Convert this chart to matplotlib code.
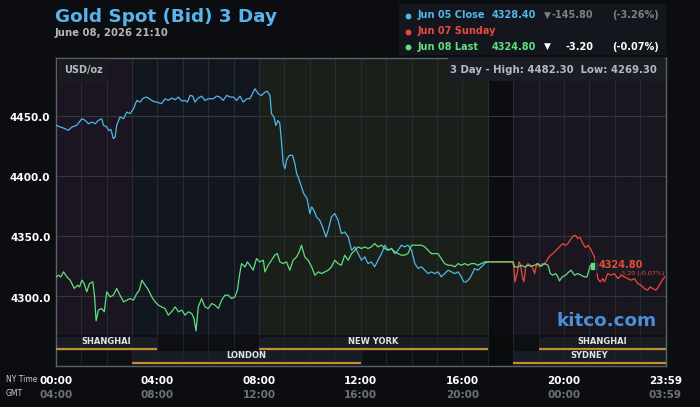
import matplotlib
matplotlib.use("Agg")
import matplotlib.pyplot as plt
from matplotlib.patches import Rectangle
from matplotlib.lines import Line2D

# ---------------- data ----------------
blue_hours = [0.02,0.18,0.31,0.50,0.64,0.83,1.03,1.16,1.29,1.42,1.55,1.68,1.81,1.88,2.01,2.08,2.17,2.27,2.34,2.40,
              2.53,2.67,2.80,2.93,3.06,3.19,3.32,3.45,3.58,3.71,3.84,3.98,4.17,4.30,4.43,4.56,4.70,4.83,4.96,5.09,
              5.18,5.29,5.39,5.48,5.61,5.74,5.87,6.00,6.20,6.33,6.46,6.59,6.73,6.86,6.99,7.12,7.25,7.38,7.51,
              7.64,7.84,7.97,8.10,8.23,8.32,8.43,8.49,8.59,8.66,8.75,8.82,8.89,8.95,9.02,9.08,9.19,9.32,9.41,9.48,
              9.54,9.67,9.76,9.89,10.00,10.07,10.16,10.26,10.39,10.50,10.63,10.72,10.85,10.98,11.11,11.24,11.37,11.51,11.64,11.77,
              11.90,12.03,12.16,12.29,12.42,12.55,12.68,12.82,12.95,13.08,13.21,13.34,13.47,13.60,13.73,13.86,14.00,14.13,14.26,14.39,
              14.52,14.65,14.78,14.91,15.04,15.17,15.30,15.44,15.57,15.70,15.83,15.96,16.05,16.15,16.29,16.39,16.48,16.61,16.75,16.88,
              16.97]
blue_prices = [4442.0,4440.6,4439.7,4437.8,4440.6,4442.0,4447.5,4446.1,4443.3,4444.7,4443.3,4446.1,4447.5,4442.0,4440.6,4437.8,4438.6,4430.9,4432.3,4442.0,
               4448.9,4447.5,4453.0,4451.7,4455.8,4462.7,4461.3,4464.7,4465.5,4463.6,4461.9,4461.3,4460.0,4464.1,4462.7,4464.7,4463.3,4465.5,4462.2,4462.7,
               4461.3,4466.9,4466.3,4461.3,4464.7,4466.3,4462.7,4464.1,4464.1,4466.3,4465.5,4462.7,4466.9,4465.5,4465.5,4462.7,4466.3,4461.3,4464.1,
               4464.1,4472.4,4468.2,4466.8,4469.6,4470.4,4466.8,4451.6,4448.8,4441.9,4446.1,4443.3,4426.7,4410.1,4405.9,4412.9,4417.0,4417.0,4410.1,4401.8,
               4399.0,4390.7,4385.2,4381.0,4368.6,4374.1,4371.3,4365.8,4363.0,4357.5,4349.2,4354.7,4365.8,4368.6,4363.0,4351.9,4353.3,4349.2,4338.1,4340.9,
               4335.3,4329.8,4332.6,4327.0,4328.4,4324.3,4329.8,4335.3,4342.3,4338.1,4339.5,4335.3,4338.1,4342.3,4340.9,4342.3,4338.1,4327.0,4322.9,4324.3,
               4321.5,4318.7,4320.1,4318.7,4320.1,4316.0,4318.7,4321.5,4320.1,4318.7,4320.1,4316.0,4311.8,4311.8,4314.6,4318.7,4322.9,4321.5,4324.3,4327.0,
               4328.4]

green_hours = [0.02,0.11,0.20,0.31,0.44,0.57,0.73,0.86,0.94,1.03,1.12,1.22,1.33,1.46,1.53,1.59,1.68,1.81,1.91,2.01,
               2.14,2.27,2.40,2.53,2.67,2.80,2.93,3.06,3.19,3.29,3.39,3.52,3.65,3.78,3.91,4.04,4.17,4.30,4.43,4.56,
               4.70,4.83,4.96,5.09,5.22,5.35,5.44,5.52,5.61,5.74,5.87,6.00,6.14,6.27,6.40,6.53,6.66,6.79,6.92,7.05,
               7.15,7.22,7.31,7.45,7.54,
               7.64,7.77,7.90,8.03,8.17,8.23,8.36,8.49,8.62,8.72,8.82,8.95,9.08,9.21,9.34,9.48,9.58,9.67,9.80,9.93,
               10.07,10.20,10.33,10.46,10.59,10.72,10.85,10.98,11.11,11.24,11.37,11.51,11.64,11.77,11.90,12.03,12.16,12.29,12.42,12.55,
               12.68,12.82,12.95,13.08,13.21,13.34,13.47,13.60,13.73,13.86,14.00,14.13,14.26,14.39,14.52,14.65,14.78,14.91,15.04,15.17,
               15.30,15.44,15.57,15.70,15.83,15.96,16.09,16.22,16.35,16.48,16.61,16.75,16.88,16.97,
               17.99,18.06,18.19,18.32,18.45,18.58,18.71,18.84,18.97,19.10,19.23,19.37,19.46,19.56,19.67,19.76,19.82,19.93,
               20.06,20.19,20.28,20.41,20.54,20.68,20.81,20.90,20.98,21.04,21.17]
green_prices = [4315.9,4317.3,4315.9,4320.1,4315.9,4313.2,4306.3,4309.0,4307.6,4313.2,4310.4,4303.5,4310.4,4311.8,4299.3,4279.4,4288.3,4289.6,4286.9,4303.5,
                4299.3,4300.7,4306.3,4300.7,4295.2,4296.6,4297.9,4296.6,4302.1,4304.9,4313.2,4309.0,4304.9,4299.3,4295.2,4292.4,4291.0,4289.6,4284.1,4286.9,
                4291.0,4286.9,4288.3,4284.1,4286.9,4285.5,4281.3,4271.0,4291.0,4297.9,4291.0,4289.6,4293.8,4292.4,4289.6,4296.6,4300.7,4300.7,4297.9,4299.3,
                4304.9,4315.9,4327.0,4324.2,4328.4,
                4325.6,4321.5,4331.2,4328.4,4329.8,4320.1,4325.6,4329.8,4334.0,4335.3,4328.4,4327.0,4328.4,4321.5,4329.8,4332.6,4336.7,4342.3,4332.6,4329.8,
                4324.3,4317.3,4320.1,4318.7,4320.1,4321.5,4324.3,4329.8,4327.0,4325.6,4334.0,4329.8,4335.3,4338.1,4340.9,4339.5,4340.9,4339.5,4340.9,4343.7,
                4340.9,4342.3,4339.5,4338.1,4339.5,4336.7,4335.3,4334.0,4334.0,4335.3,4342.3,4342.3,4342.3,4342.3,4340.9,4338.1,4335.3,4335.3,4335.3,4331.2,
                4327.0,4325.6,4325.6,4324.3,4327.0,4325.6,4327.0,4325.6,4327.0,4327.0,4325.6,4327.0,4328.4,4328.4,
                4328.4,4324.2,4324.2,4325.6,4324.2,4325.6,4324.8,4325.6,4327.0,4324.8,4327.0,4325.6,4318.7,4317.3,4318.7,4315.9,4312.6,4315.9,
                4317.3,4320.1,4321.5,4317.3,4318.7,4317.3,4315.9,4315.9,4321.5,4325.6,4324.8]

red_hours = [16.97,17.99,18.03,18.07,18.15,18.23,18.29,18.36,18.42,18.49,18.58,18.67,18.75,18.84,18.93,19.04,19.14,19.23,19.37,19.46,
             19.56,19.69,19.82,19.95,20.06,20.15,20.24,20.35,20.45,20.54,20.64,20.74,20.85,20.94,21.04,21.13,21.20,21.26,21.33,21.42,
             21.53,21.59,21.72,21.85,21.98,22.12,22.25,22.38,22.51,22.64,22.77,22.90,23.03,23.16,23.29,23.39,23.49,23.62,23.75,23.86,
             23.91,23.96]
red_prices = [4328.4,4328.4,4321.5,4311.8,4318.7,4328.4,4325.6,4315.9,4311.8,4324.2,4327.0,4325.6,4324.2,4318.7,4327.0,4324.2,4327.0,4326.4,4331.2,4333.9,
              4335.3,4338.1,4340.9,4343.6,4342.2,4343.6,4346.4,4349.7,4350.5,4347.8,4348.6,4343.6,4340.3,4342.2,4339.5,4335.3,4332.5,4324.2,4314.5,4311.8,
              4314.5,4311.8,4318.7,4317.3,4318.7,4314.5,4317.3,4315.9,4314.5,4313.2,4314.5,4310.4,4309.0,4306.2,4304.9,4307.6,4306.2,4304.9,4309.0,4313.2,
              4314.5,4315.9]

y_ticks = [4300.0, 4350.0, 4400.0, 4450.0]
ny_ticks = [0, 4, 8, 12, 16, 20, 23.98]
ny_labels = ["00:00", "04:00", "08:00", "12:00", "16:00", "20:00", "23:59"]
gmt_labels = ["04:00", "08:00", "12:00", "16:00", "20:00", "00:00", "03:59"]

# session backgrounds (start hour, end hour, colour)
zone_starts = [0, 3, 8, 17, 18]
zone_ends = [3, 8, 17, 18, 24]
zone_colors = ["#1a1520", "#11161f", "#1a1f1a", "#0c0d10", "#1a1620"]

# market session bars: name, start, end, row
session_names = ["SHANGHAI", "NEW YORK", "SHANGHAI", "LONDON", "SYDNEY"]
session_starts = [0, 8, 19, 3, 18]
session_ends = [4, 17, 24, 12, 24]
session_rows = [0, 0, 0, 1, 1]

BLUE = "#52b6ea"
GREEN = "#5fe07c"
RED = "#ea4a3c"
BG = "#0b0d11"

W, H = 700, 407
fig = plt.figure(figsize=(7.0, 4.07), dpi=100, facecolor=BG)


def fx(x):
    return x / W


def fy(y):
    return 1 - y / H


L, R, T, MID, B = 55.7, 665.7, 57.5, 335.0, 366.0
ymin, ymax = 4267.6, 4498.4

ax = fig.add_axes([fx(L), fy(MID), fx(R) - fx(L), fy(T) - fy(MID)])
axb = fig.add_axes([fx(L), fy(B), fx(R) - fx(L), fy(MID) - fy(B)])
for a in (ax, axb):
    a.set_xlim(0, 24)
    a.set_xticks([])
    a.set_yticks([])
    for s in a.spines.values():
        s.set_color("#5c6068")
        s.set_linewidth(1.0)
ax.spines["bottom"].set_visible(False)
axb.spines["top"].set_visible(False)
ax.set_ylim(ymin, ymax)
axb.set_ylim(0, 1)
ax.set_facecolor(BG)
axb.set_facecolor("#0d0f13")

for s0, s1, c in zip(zone_starts, zone_ends, zone_colors):
    ax.axvspan(s0, s1, color=c, zorder=0, lw=0)
axb.axvspan(17, 18, color="#0a0b0d", zorder=0, lw=0)

for h in range(1, 24):
    ax.axvline(h, color="#272b32", lw=0.8, zorder=1)
    axb.axvline(h, color="#1e2229", lw=0.8, zorder=3)
for v in y_ticks:
    ax.axhline(v, color="#34373e", lw=0.8, zorder=1)

# session bars
row_bottom = [0.50, 0.03]
row_height = 0.44
line_pos = [0.55, 0.085]
for name, s0, s1, r in zip(session_names, session_starts, session_ends, session_rows):
    axb.add_patch(Rectangle((s0, row_bottom[r]), s1 - s0, row_height, facecolor="#171c25",
                            edgecolor="none", zorder=1))
    axb.plot([s0, s1], [line_pos[r], line_pos[r]], color="#c48d30", lw=1.6, zorder=4,
             solid_capstyle="butt")
    axb.text((s0 + s1) / 2, line_pos[r] + 0.25, name, color="#dfe2e8", fontsize=6,
             fontweight="bold", ha="center", va="center", zorder=5)

# price lines
ax.plot(red_hours, red_prices, color=RED, lw=0.9, zorder=3)
ax.plot(blue_hours, blue_prices, color=BLUE, lw=0.9, zorder=4)
ax.plot(green_hours, green_prices, color=GREEN, lw=0.9, zorder=5)
ax.plot(green_hours[-1], green_prices[-1], marker="s", ms=4, color=GREEN, zorder=7)

# last price label
ax.text(21.35, green_prices[-1] + 1.2, "%.2f" % green_prices[-1], color=RED, fontsize=7,
        fontweight="bold", ha="left", va="center", zorder=8,
        bbox=dict(boxstyle="square,pad=0.35", facecolor="#1b1d22", edgecolor="none", alpha=0.85))
ax.text(23.97, green_prices[-1] - 6.3, "-3.20 (-0.07%)", color=RED, fontsize=4.6,
        ha="right", va="center", zorder=9)

# y tick labels
for v in y_ticks:
    fig.text(fx(50.5), fy(115.3 + (4450 - v) * 1.2047 + 2.5), "%.1f" % v, color="white",
             fontsize=7.5, fontweight="bold", ha="right", va="center")

# x labels
for t, l1, l2 in zip(ny_ticks, ny_labels, gmt_labels):
    xp = L + t / 24 * (R - L)
    fig.text(fx(xp), fy(380.5), l1, color="white", fontsize=7.5, fontweight="bold",
             ha="center", va="center")
    fig.text(fx(xp), fy(394.5), l2, color="#6e7178", fontsize=7.5, fontweight="bold",
             ha="center", va="center")
fig.text(fx(6), fy(379), "NY Time", color="#c9ccd2", fontsize=5.5, ha="left", va="center")
fig.text(fx(6), fy(393), "GMT", color="#c9ccd2", fontsize=5.5, ha="left", va="center")

# titles
fig.text(fx(55), fy(16.5), "Gold Spot (Bid) 3 Day", color="#5ab4ec", fontsize=13.2,
         fontweight="bold", ha="left", va="center")
fig.text(fx(55), fy(33), "June 08, 2026 21:10", color="#b4b6ba", fontsize=7.3,
         fontweight="bold", ha="left", va="center")

# legend box
fig.patches.append(Rectangle((fx(399), fy(55)), fx(666) - fx(399), fy(4) - fy(55),
                             transform=fig.transFigure, facecolor="#13161c", edgecolor="none"))
rows = [15.5, 31.5, 46.5]
leg_colors = [BLUE, RED, GREEN]
leg_names = ["Jun 05 Close", "Jun 07 Sunday", "Jun 08 Last"]
for yy, c, nm in zip(rows, leg_colors, leg_names):
    fig.add_artist(Line2D([fx(408)], [fy(yy)], transform=fig.transFigure, marker="o",
                          markersize=3.2, color=c, linestyle="none"))
    fig.text(fx(418), fy(yy), nm, color=c, fontsize=7, fontweight="bold", ha="left", va="center")
fig.text(fx(492), fy(rows[0]), "%.2f" % blue_prices[-1], color=BLUE, fontsize=7,
         fontweight="bold", ha="left", va="center")
fig.text(fx(544), fy(rows[0]), "\u25BC", color="#7d8087", fontsize=6.5, ha="left", va="center")
fig.text(fx(593), fy(rows[0]), "-145.80", color="#7d8087", fontsize=7, fontweight="bold",
         ha="right", va="center")
fig.text(fx(659), fy(rows[0]), "(-3.26%)", color="#7d8087", fontsize=7, fontweight="bold",
         ha="right", va="center")
fig.text(fx(492), fy(rows[2]), "%.2f" % green_prices[-1], color=GREEN, fontsize=7,
         fontweight="bold", ha="left", va="center")
fig.text(fx(544), fy(rows[2]), "\u25BC", color="white", fontsize=6.5, ha="left", va="center")
fig.text(fx(593), fy(rows[2]), "-3.20", color="white", fontsize=7, fontweight="bold",
         ha="right", va="center")
fig.text(fx(659), fy(rows[2]), "(-0.07%)", color="white", fontsize=7, fontweight="bold",
         ha="right", va="center")

# in-plot info boxes
fig.patches.append(Rectangle((fx(448), fy(81)), fx(665) - fx(448), fy(58.5) - fy(81),
                             transform=fig.transFigure, facecolor="#1a1d23", edgecolor="none", zorder=5))
fig.text(fx(657), fy(70), "3 Day - High: 4482.30  Low: 4269.30", color="#b5b9c2", fontsize=7.3,
         fontweight="bold", ha="right", va="center", zorder=6)
fig.patches.append(Rectangle((fx(57), fy(82)), fx(108) - fx(57), fy(58.5) - fy(82),
                             transform=fig.transFigure, facecolor="#1a1b21", edgecolor="none", zorder=5))
fig.text(fx(64), fy(70), "USD/oz", color="#b5b9c2", fontsize=7, fontweight="bold",
         ha="left", va="center", zorder=6)

fig.text(fx(606.5), fy(320.5), "kitco.com", color="#4a8fd8", fontsize=13.2, fontweight="bold",
         ha="center", va="center", zorder=6)

fig.savefig("out.png", dpi=100, facecolor=BG)
